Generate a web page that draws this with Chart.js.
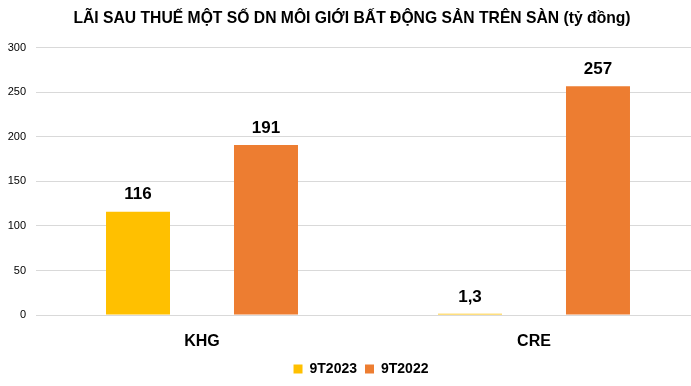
<!DOCTYPE html>
<html><head><meta charset="utf-8">
<script src="https://cdn.jsdelivr.net/npm/chart.js@4/dist/chart.umd.min.js"></script>
<style>html,body{margin:0;padding:0;background:#fff;overflow:hidden;width:691px;height:386px}#wrap{width:700px;height:386px}</style>
</head><body><div id="wrap"><canvas id="c" width="700" height="386"></canvas></div>
<script>
const categories = ["KHG", "CRE"];
const series2023 = [116, 1.3];
const series2022 = [191, 257];
const seriesNames = ["9T2023", "9T2022"];
const yTicks = [0, 50, 100, 150, 200, 250, 300];
const valueLabels2023 = ["116", "1,3"];
const valueLabels2022 = ["191", "257"];

const FONT = "'Liberation Sans', Arial, sans-serif";

const labelPlugin = {
  id: 'valueLabels',
  afterLayout(chart) {
    if (chart.legend) { chart.legend.left += 9; chart.legend.right += 9; }
  },
  afterDatasetsDraw(chart) {
    const ctx = chart.ctx;
    const lbls = [valueLabels2023, valueLabels2022];
    ctx.save();
    ctx.font = "bold 17px " + FONT;
    ctx.fillStyle = "#000";
    ctx.textAlign = "center";
    ctx.textBaseline = "middle";
    chart.data.datasets.forEach((ds, i) => {
      chart.getDatasetMeta(i).data.forEach((bar, j) => {
        ctx.fillText(lbls[i][j], bar.x, bar.y - 17);
      });
    });
    ctx.restore();
  }
};

new Chart(document.getElementById('c'), {
  type: 'bar',
  data: {
    labels: categories,
    datasets: [
      { label: seriesNames[0], data: series2023, backgroundColor: '#FFC000' },
      { label: seriesNames[1], data: series2022, backgroundColor: '#ED7D31' }
    ]
  },
  options: {
    responsive: false,
    animation: false,
    devicePixelRatio: 1,
    layout: { padding: { left: 4, right: 0, top: 0, bottom: 0 } },
    datasets: { bar: { categoryPercentage: 0.771, barPercentage: 0.5 } },
    plugins: {
      title: {
        display: true,
        text: 'LÃI SAU THUẾ MỘT SỐ DN MÔI GIỚI BẤT ĐỘNG SẢN TRÊN SÀN (tỷ đồng)',
        color: '#000',
        font: { family: FONT, size: 15.7, weight: 'bold' },
        padding: { top: 9, bottom: 20 }
      },
      legend: {
        position: 'bottom',
        labels: {
          color: '#000',
          boxWidth: 9, boxHeight: 9,
          font: { family: FONT, size: 14, weight: 'bold' },
          padding: 8
        }
      },
      tooltip: { enabled: false }
    },
    scales: {
      x: {
        grid: { display: false, drawTicks: false },
        border: { color: '#d9d9d9', width: 1 },
        ticks: { color: '#000', font: { family: FONT, size: 16, weight: 'bold' }, padding: 17 },
        afterFit: (s) => { s.height = 39; }
      },
      y: {
        min: 0, max: 300,
        afterBuildTicks: (s) => { s.ticks = yTicks.map(v => ({ value: v })); },
        grid: { color: '#d9d9d9', drawTicks: false },
        border: { display: false },
        ticks: { color: '#000', font: { family: FONT, size: 11 }, padding: 10 },
        afterFit: (s) => { s.width = 32; }
      }
    }
  },
  plugins: [labelPlugin]
});
</script></body></html>
